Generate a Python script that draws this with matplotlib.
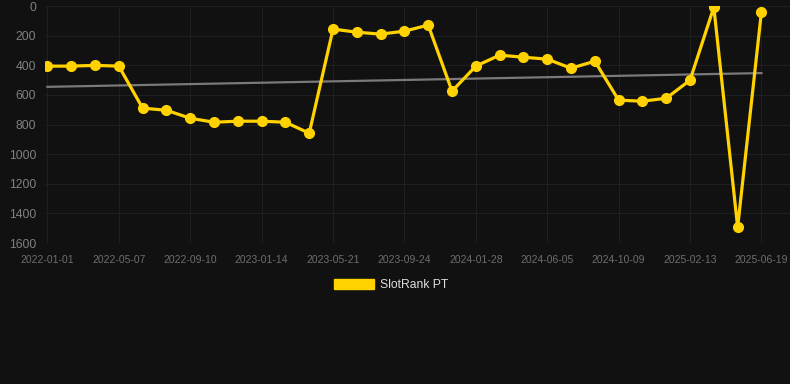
import numpy as np
import matplotlib.pyplot as plt

plt.rcParams['font.family'] = ['Liberation Sans', 'DejaVu Sans']

# ранг по точкам (каждые ~6 недель), ось Y перевёрнута
rank = [405, 405, 400, 405, 689, 703, 757, 784, 777, 777, 784, 858,
        155, 176, 189, 169, 128, 574, 405, 331, 345, 358, 419, 372,
        635, 642, 622, 500, 7, 1493, 38]
tick_labels = ['2022-01-01', '2022-05-07', '2022-09-10', '2023-01-14', '2023-05-21',
               '2023-09-24', '2024-01-28', '2024-06-05', '2024-10-09', '2025-02-13',
               '2025-06-19']
trend = [545, 452]  # начало и конец линии тренда
series_name = 'SlotRank PT'

bg = '#111111'
yellow = '#ffd200'

fig = plt.figure(figsize=(7.9, 3.84), dpi=100, facecolor=bg)
ax = fig.add_axes([0.057, 0.367, 0.943, 0.617], facecolor=bg)

x = np.arange(len(rank))
ax.plot([x[0], x[-1]], trend, color='#7a7a7a', linewidth=1.6, zorder=2)
ax.plot(x, rank, color=yellow, linewidth=2.3, marker='o', markersize=7, zorder=3)

ax.set_ylim(1600, 0)
ax.set_xlim(-0.1, 31.2)
ax.set_yticks(range(0, 1601, 200))
ax.set_xticks(x[::3])
ax.set_xticklabels(tick_labels)

ax.grid(True, color='#1f1f1f', linewidth=0.8)
for s in ax.spines.values():
    s.set_visible(False)
ax.tick_params(axis='y', length=0, pad=6.5, labelsize=8.8, labelcolor='#808080')
ax.tick_params(axis='x', length=0, pad=8.5, labelsize=7.5, labelcolor='#6e6e6e')

# легенда
leg_handle = plt.Rectangle((0, 0), 1, 1, color=yellow)
fig.legend([leg_handle], [series_name], loc='center', bbox_to_anchor=(0.495, 0.258),
           frameon=False, fontsize=8.7, labelcolor='#dddddd',
           handlelength=3.3, handleheight=0.9, handletextpad=0.5)

plt.savefig('out.png', dpi=100, facecolor=bg)
